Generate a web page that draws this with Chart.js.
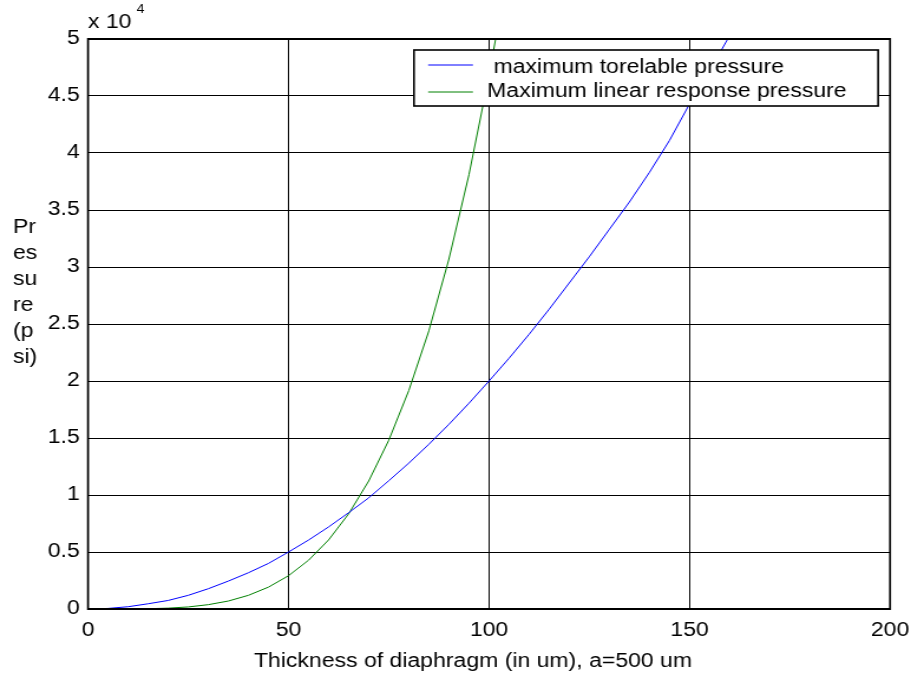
<!DOCTYPE html>
<html>
<head>
<meta charset="utf-8">
<script src="https://cdn.jsdelivr.net/npm/chart.js@4.4.1/dist/chart.umd.min.js"></script>
<style>
  html, body { margin: 0; padding: 0; background: #fff; overflow: hidden; }
  /* plot is laid out narrow and widened horizontally, like the original figure */
  #wrap { position: absolute; left: 0; top: 0; width: 772px; height: 677px;
          transform: scaleX(1.18005); transform-origin: 0 0; }
</style>
</head>
<body>
<div id="wrap"><canvas id="c"></canvas></div>
<script>
// Diaphragm thickness (um) and pressure (psi)
const thicknessTolerable = [0, 5, 10, 15, 20, 25, 30, 35, 40, 45, 50, 55, 60, 65, 70, 75, 80,
  85, 90, 95, 100, 105, 110, 115, 120, 125, 130, 135, 140, 145, 150, 155, 160];
const tolerablePressure = [0, 50, 200, 460, 750, 1200, 1780, 2450, 3180, 4000, 5000, 6050,
  7200, 8450, 9750, 11250, 12800, 14450, 16200, 18050, 20000, 22000, 24100, 26300, 28600,
  30900, 33300, 35700, 38300, 41100, 44300, 47200, 50300];

const thicknessLinear = [0, 5, 10, 15, 20, 25, 30, 35, 40, 45, 50, 55, 60, 65, 70, 75, 80,
  85, 90, 95, 100, 102];
const linearPressure = [0, 0, 5, 25, 75, 180, 380, 700, 1200, 1920, 2920, 4280, 6060, 8350,
  11230, 14800, 19170, 24400, 30700, 38100, 46800, 50700];

const seriesNames = [' maximum torelable pressure', 'Maximum linear response pressure'];
const seriesColors = ['#0000ff', '#008000'];

const xTickLabels = ['0', '50', '100', '150', '200'];
const yTickLabels = ['0', '0.5', '1', '1.5', '2', '2.5', '3', '3.5', '4', '4.5', '5'];
const yExponent = '4';
const xTitle = 'Thickness of diaphragm (in um), a=500 um';
const yTitleLines = ['Pr', 'es', 'su', 're', '(p', 'si)'];

const FONT = "'Liberation Sans', Arial, Helvetica, sans-serif";
const FS = 19.5;

function pairs(xs, ys) { return xs.map((x, i) => ({ x: x, y: ys[i] })); }

// Box, exponent, titles and the legend, drawn on top of the plot
const decorations = {
  id: 'decorations',
  afterDraw(chart) {
    const ctx = chart.ctx;
    const a = chart.chartArea;
    ctx.save();

    // axes box
    ctx.strokeStyle = '#000';
    ctx.lineWidth = 2;
    ctx.beginPath();
    ctx.moveTo(a.left, a.top); ctx.lineTo(a.right, a.top);
    ctx.moveTo(a.left, a.bottom); ctx.lineTo(a.right, a.bottom);
    ctx.stroke();
    ctx.lineWidth = 1.7;
    ctx.beginPath();
    ctx.moveTo(a.left, a.top - 1); ctx.lineTo(a.left, a.bottom + 1);
    ctx.moveTo(a.right, a.top - 1); ctx.lineTo(a.right, a.bottom + 1);
    ctx.stroke();

    ctx.fillStyle = '#000';
    ctx.textBaseline = 'alphabetic';

    // scale exponent
    ctx.textAlign = 'left';
    ctx.font = FS + 'px ' + FONT;
    ctx.fillText('x 10', a.left, a.top - 11);
    const w = ctx.measureText('x 10 ').width;
    ctx.font = '12px ' + FONT;
    ctx.fillText(yExponent, a.left + w - 1, a.top - 26);

    // y title, wrapped
    ctx.font = FS + 'px ' + FONT;
    yTitleLines.forEach((s, i) => ctx.fillText(s, 11, 233 + i * 26));

    // x title
    ctx.textAlign = 'center';
    ctx.fillText(xTitle, (a.left + a.right) / 2 - 13.6, a.bottom + 58);

    // legend
    const lx0 = 350.8, lx1 = a.right - 10.1, ly0 = a.top + 11, ly1 = a.top + 67;
    ctx.fillStyle = '#fff';
    ctx.fillRect(lx0, ly0, lx1 - lx0, ly1 - ly0);
    ctx.strokeStyle = '#000';
    ctx.lineWidth = 1.6;
    ctx.strokeRect(lx0, ly0, lx1 - lx0, ly1 - ly0);
    const sampleY = [ly0 + 15, ly0 + 42];
    const textY = [ly0 + 23, ly0 + 47];
    chart.data.datasets.forEach((ds, i) => {
      ctx.strokeStyle = ds.borderColor;
      ctx.lineWidth = 1;
      ctx.beginPath();
      ctx.moveTo(lx0 + 12, sampleY[i]);
      ctx.lineTo(lx0 + 50, sampleY[i]);
      ctx.stroke();
      ctx.fillStyle = '#000';
      ctx.textAlign = 'left';
      ctx.font = FS + 'px ' + FONT;
      ctx.fillText(ds.label, lx0 + 62, textY[i]);
    });

    ctx.restore();
  }
};

new Chart(document.getElementById('c'), {
  type: 'line',
  data: {
    datasets: [
      { label: seriesNames[0], data: pairs(thicknessTolerable, tolerablePressure),
        borderColor: seriesColors[0], borderWidth: 1, pointRadius: 0, tension: 0, fill: false },
      { label: seriesNames[1], data: pairs(thicknessLinear, linearPressure),
        borderColor: seriesColors[1], borderWidth: 1, pointRadius: 0, tension: 0, fill: false }
    ]
  },
  options: {
    responsive: true,
    maintainAspectRatio: false,
    animation: false,
    events: [],
    layout: { padding: { left: 0, top: 39, right: 17.76, bottom: 0 } },
    plugins: { legend: { display: false }, tooltip: { enabled: false } },
    scales: {
      x: {
        type: 'linear', min: 0, max: 200,
        afterFit(s) { s.height = 68; s.paddingLeft = 0; s.paddingRight = 0; },
        border: { display: false },
        grid: { color: '#000', lineWidth: 1, drawTicks: false },
        ticks: { stepSize: 50, padding: 10, color: '#000', maxRotation: 0,
                 font: { family: FONT, size: FS },
                 callback: (v, i) => xTickLabels[i] }
      },
      y: {
        type: 'linear', min: 0, max: 50000,
        afterFit(s) { s.width = 74.58; s.paddingTop = 0; s.paddingBottom = 0; },
        border: { display: false },
        grid: { color: '#000', lineWidth: 1, drawTicks: false },
        ticks: { stepSize: 5000, padding: 7, color: '#000',
                 font: { family: FONT, size: FS },
                 callback: (v, i) => yTickLabels[i] }
      }
    }
  },
  plugins: [decorations]
});
</script>
</body>
</html>
